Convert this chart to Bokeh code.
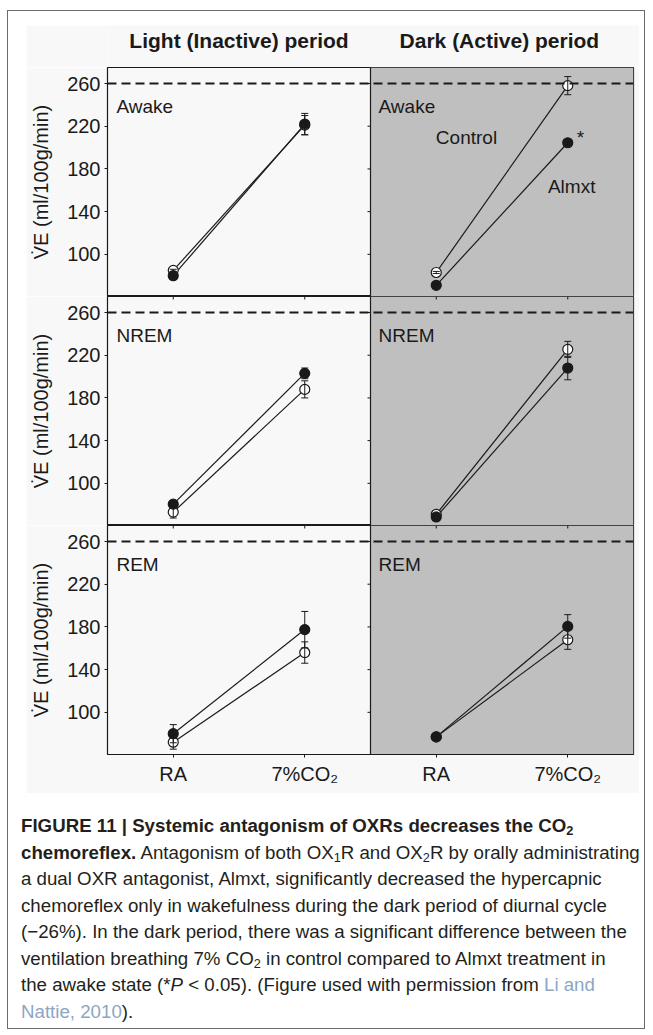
import numpy as np
from bokeh.plotting import figure
from bokeh.layouts import column
from bokeh.models import (ColumnDataSource, Whisker, TeeHead, Span, BoxAnnotation,
                          FixedTicker, Range1d, Div)
from bokeh.core.properties import value
from bokeh.embed import file_html
from bokeh.resources import INLINE

FONT = "Liberation Sans"

# ---------------- data ----------------
periods = ["Light (Inactive) period", "Dark (Active) period"]
states = ["Awake", "NREM", "REM"]
x_pos = [1, 2, 3, 4]                       # light RA, light 7%, dark RA, dark 7%
x_labels = ["RA", "7%CO\u2082", "RA", "7%CO\u2082"]
y_ticks = [100, 140, 180, 220, 260]

# Control (open circles)
awake_control = [85, 221, 83, 258]
awake_control_err = [1, 9, 1, 8.5]
nrem_control = [73, 188, 71, 225.5]
nrem_control_err = [5.5, 8, 1, 7.5]
rem_control = [72, 156, 77, 168]
rem_control_err = [6.5, 10, 2, 9]

# Almxt (filled circles)
awake_almxt = [80, 222, 71, 204.5]
awake_almxt_err = [1, 10, 1, 2]
nrem_almxt = [80.5, 203, 68.5, 208]
nrem_almxt_err = [2, 5, 1, 11]
rem_almxt = [80, 177.5, 77, 180.5]
rem_almxt_err = [8.5, 17, 2, 11]

reference_level = 260

Y0, Y1 = 60.5, 275
BG = "#f8f8f8"
DARK_BG = "#bfbfbf"
INK = "#1a1a1a"


def make_row(state, ctrl, ctrl_err, alm, alm_err, bottom_axis, top_ticks, annotate=False):
    h = 229 + (39 if bottom_axis else 0)
    p = figure(width=613, height=h, x_range=Range1d(0.5, 4.5), y_range=Range1d(Y0, Y1),
               toolbar_location=None, output_backend="svg",
               min_border_left=81, min_border_right=6, min_border_top=0,
               min_border_bottom=39 if bottom_axis else 0,
               x_axis_location="below" if bottom_axis else None,
               y_axis_location="left")
    p.background_fill_color = BG
    p.border_fill_color = BG
    p.outline_line_color = INK
    p.outline_line_width = 1.2
    p.grid.visible = False

    # dark-period half
    p.add_layout(BoxAnnotation(left=2.5, fill_color=DARK_BG, fill_alpha=1.0,
                               line_color=None, level="underlay"))

    yax = p.yaxis[0]
    yax.ticker = FixedTicker(ticks=y_ticks)
    yax.major_tick_out = 3
    yax.major_tick_in = 0
    yax.minor_tick_out = 0
    yax.minor_tick_in = 0
    yax.axis_line_color = INK
    yax.major_tick_line_color = INK
    yax.major_label_text_font = FONT
    yax.major_label_text_font_size = "20px"
    yax.major_label_text_color = INK
    yax.major_label_standoff = 4
    yax.axis_label = "V\u0307E (ml/100g/min)"
    yax.axis_label_text_font = FONT
    yax.axis_label_text_font_size = "20px"
    yax.axis_label_text_font_style = "normal"
    yax.axis_label_text_color = INK
    yax.axis_label_standoff = 12

    if bottom_axis:
        xax = p.xaxis[0]
        xax.ticker = FixedTicker(ticks=x_pos)
        xax.major_label_overrides = {x: l for x, l in zip(x_pos, x_labels)}
        xax.major_tick_out = 3
        xax.major_tick_in = 0
        xax.minor_tick_out = 0
        xax.minor_tick_in = 0
        xax.axis_line_color = INK
        xax.major_tick_line_color = INK
        xax.major_label_text_font = FONT
        xax.major_label_text_font_size = "20px"
        xax.major_label_text_color = INK
        xax.major_label_standoff = 5

    # divider between light and dark halves + its tick marks
    p.add_layout(Span(location=2.5, dimension="height", line_color=INK, line_width=1.2))
    p.ray(x=[2.5] * len(y_ticks), y=y_ticks, length=3, length_units="screen",
          angle=np.pi, line_color=INK, line_width=1)
    if top_ticks:
        p.ray(x=x_pos, y=[Y1] * len(x_pos), length=3, length_units="screen",
              angle=-np.pi / 2, line_color=INK, line_width=1)

    # 260 reference dashed line
    p.add_layout(Span(location=reference_level, dimension="width", line_color=INK,
                      line_width=2, line_dash="9 5"))

    # state labels
    p.text(x=[0.568, 2.561], y=[238.4, 238.4], text=[state, state],
           text_font=value(FONT), text_font_size="19px", text_color=INK,
           text_baseline="alphabetic", text_align="left")

    # connecting lines
    p.multi_line(xs=[x_pos[0:2], x_pos[2:4]], ys=[ctrl[0:2], ctrl[2:4]],
                 line_color=INK, line_width=1.2)
    p.multi_line(xs=[x_pos[0:2], x_pos[2:4]], ys=[alm[0:2], alm[2:4]],
                 line_color=INK, line_width=1.2)

    # error bars
    for m, e in ((ctrl, ctrl_err), (alm, alm_err)):
        src = ColumnDataSource(dict(x=x_pos,
                                    up=[a + b for a, b in zip(m, e)],
                                    lo=[a - b for a, b in zip(m, e)]))
        p.add_layout(Whisker(source=src, base="x", upper="up", lower="lo",
                             line_color=INK, line_width=1,
                             upper_head=TeeHead(size=7, line_color=INK, line_width=1),
                             lower_head=TeeHead(size=7, line_color=INK, line_width=1),
                             level="glyph"))

    p.scatter(x=x_pos, y=ctrl, marker="circle", size=10, fill_color="white",
              line_color=INK, line_width=1.2)
    p.scatter(x=x_pos, y=alm, marker="circle", size=10, fill_color=INK,
              line_color=INK, line_width=1.2)

    if annotate:
        p.text(x=[3.23, 4.03], y=[209, 164], text=["Control", "Almxt"],
               text_font=value(FONT), text_font_size="19px", text_color=INK,
               text_baseline="middle", text_align="center")
        p.text(x=[4.097], y=[209.2], text=["*"],
               text_font=value(FONT), text_font_size="19px", text_color=INK,
               text_baseline="alphabetic", text_align="center")
    return p


# header with period titles
header = figure(width=613, height=42, x_range=Range1d(0.5, 4.5), y_range=Range1d(0, 42),
                toolbar_location=None, output_backend="svg",
                min_border_left=81, min_border_right=6, min_border_top=0, min_border_bottom=0,
                x_axis_location=None, y_axis_location=None)
header.background_fill_color = BG
header.border_fill_color = BG
header.outline_line_color = None
header.grid.visible = False
header.text(x=[1.5, 3.48], y=[27, 27], text=periods, text_font=value(FONT),
            text_font_size="21px", text_font_style="bold", text_color=INK,
            text_baseline="middle", text_align="center")

row1 = make_row(states[0], awake_control, awake_control_err, awake_almxt, awake_almxt_err,
                bottom_axis=False, top_ticks=False, annotate=True)
row2 = make_row(states[1], nrem_control, nrem_control_err, nrem_almxt, nrem_almxt_err,
                bottom_axis=False, top_ticks=True)
row3 = make_row(states[2], rem_control, rem_control_err, rem_almxt, rem_almxt_err,
                bottom_axis=True, top_ticks=True)

chart = column(header, row1, row2, row3, margin=(14, 0, 0, 18))

SUB = '<sub style="font-size:0.68em;vertical-align:-0.25em;line-height:0">'
caption_html = (
    '<div style="font-family:\'Liberation Sans Narrow\',\'Liberation Sans\',sans-serif;'
    'font-size:18.7px;line-height:26.5px;color:#231f20;white-space:nowrap;">'
    '<b>FIGURE 11 | Systemic antagonism of OXRs decreases the CO' + SUB + '2</sub></b><br>'
    '<b>chemoreflex.</b> Antagonism of both OX' + SUB + '1</sub>R and OX' + SUB +
    '2</sub>R by orally administrating<br>'
    'a dual OXR antagonist, Almxt, significantly decreased the hypercapnic<br>'
    'chemoreflex only in wakefulness during the dark period of diurnal cycle<br>'
    '(\u221226%). In the dark period, there was a significant difference between the<br>'
    'ventilation breathing 7% CO' + SUB + '2</sub> in control compared to Almxt treatment in<br>'
    'the awake state (*<i>P</i> &lt; 0.05). (Figure used with permission from '
    '<span style="color:#8ca6c4">Li and</span><br>'
    '<span style="color:#8ca6c4">Nattie, 2010</span>).'
    '</div>'
)
caption = Div(text=caption_html, width=623, height=215, margin=(20, 0, 0, 13))

page = column(chart, caption, margin=(10, 0, 0, 7),
              styles={"border": "1px solid #6b6b6b", "background-color": "white"})

open("out.html", "w").write(file_html(page, INLINE))
